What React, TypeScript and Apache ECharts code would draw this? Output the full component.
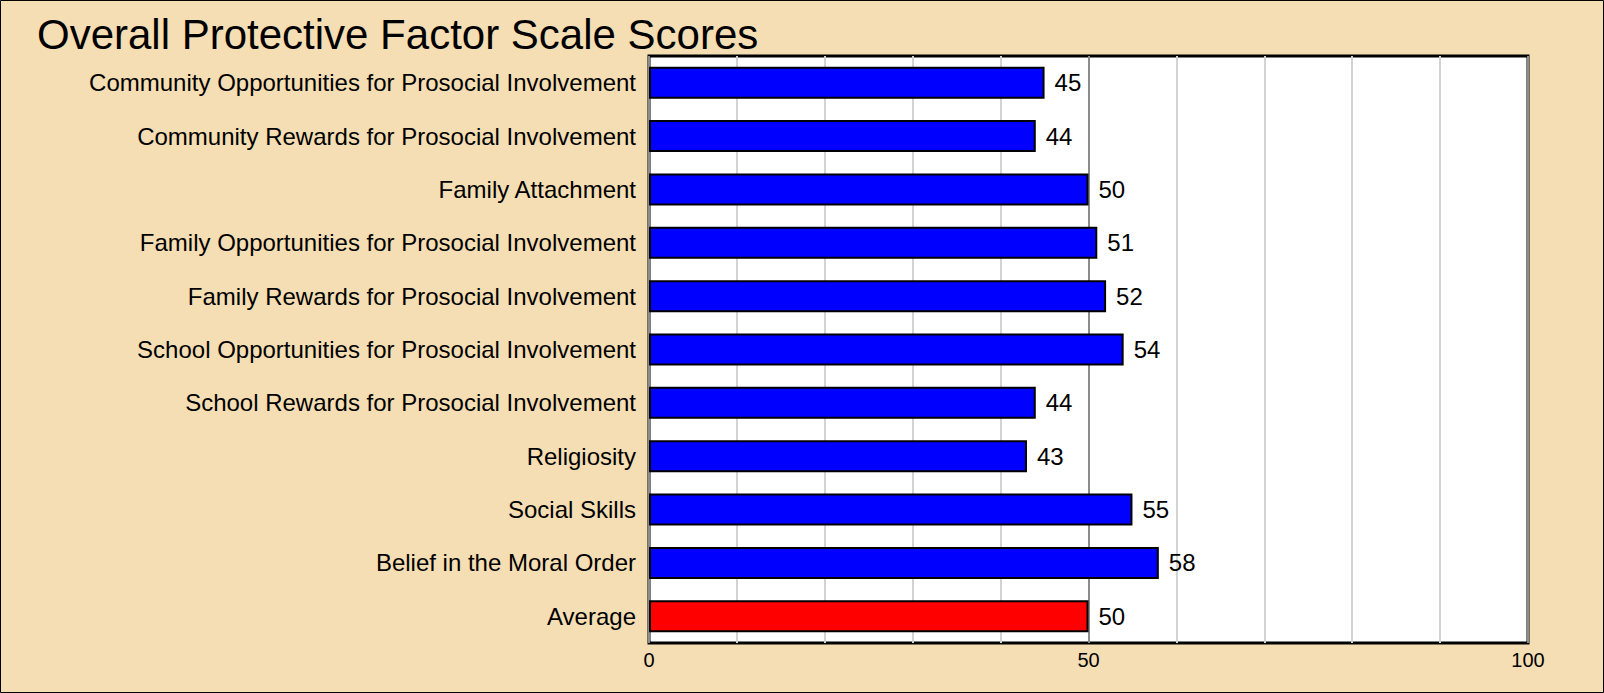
import React, { useEffect, useRef } from "react";
import * as echarts from "echarts";

const categories = [
  "Community Opportunities for Prosocial Involvement",
  "Community Rewards for Prosocial Involvement",
  "Family Attachment",
  "Family Opportunities for Prosocial Involvement",
  "Family Rewards for Prosocial Involvement",
  "School Opportunities for Prosocial Involvement",
  "School Rewards for Prosocial Involvement",
  "Religiosity",
  "Social Skills",
  "Belief in the Moral Order",
  "Average",
];
const values = [45, 44, 50, 51, 52, 54, 44, 43, 55, 58, 50];
const barColors = [
  "#0000FF", "#0000FF", "#0000FF", "#0000FF", "#0000FF", "#0000FF",
  "#0000FF", "#0000FF", "#0000FF", "#0000FF", "#FF0000",
];
const axisMin = 0;
const axisMax = 100;
const axisInterval = 50;
const titleText = "Overall Protective Factor Scale Scores";

const FONT = "'Liberation Sans', Arial, Helvetica, sans-serif";

export default function App() {
  const ref = useRef<HTMLDivElement>(null);
  useEffect(() => {
    document.body.style.margin = "0";
    if (!ref.current) return;
    const chart = echarts.init(ref.current, null, { renderer: "svg" });
    chart.setOption({
      animation: false,
      backgroundColor: "#F5DEB3",
      textStyle: { fontFamily: FONT },
      title: {
        text: titleText,
        left: 32,
        top: 8,
        textStyle: { fontSize: 42, fontWeight: "normal", color: "#000", fontFamily: FONT },
      },
      graphic: [
        {
          type: "rect",
          shape: { x: 0.5, y: 0.5, width: 1603, height: 692 },
          style: { fill: "none", stroke: "#000", lineWidth: 1 },
          z: 100,
        },
      ],
      grid: {
        left: 649,
        top: 56,
        right: 76,
        bottom: 50,
        show: true,
        backgroundColor: "#FFFFFF",
        borderColor: "#000",
        borderWidth: 3,
        z: 0,
      },
      xAxis: {
        type: "value",
        min: axisMin,
        max: axisMax,
        interval: axisInterval,
        axisLine: { show: false },
        axisTick: { show: false },
        axisLabel: { fontSize: 20, color: "#000", margin: 7, fontFamily: FONT },
        splitLine: { show: true, lineStyle: { color: "#8c8c8c", width: 2 } },
        minorTick: { show: false, splitNumber: 5 },
        minorSplitLine: { show: true, lineStyle: { color: "#d3d3d3", width: 2 } },
      },
      yAxis: {
        type: "category",
        data: categories,
        inverse: true,
        axisLine: { show: false },
        axisTick: { show: false },
        axisLabel: {
          fontSize: 24,
          color: "#000",
          margin: 13,
          fontFamily: FONT,
          padding: [5, 0, 0, 0],
        },
        splitLine: { show: false },
      },
      series: [
        {
          type: "bar",
          data: values.map((v, i) => ({ value: v, itemStyle: { color: barColors[i] } })),
          barWidth: 32,
          itemStyle: { borderColor: "#000", borderWidth: 2 },
          label: {
            show: true,
            position: "right",
            distance: 10,
            fontSize: 24,
            color: "#000",
            fontFamily: FONT,
            padding: [5, 0, 0, 0],
          },
          z: 3,
        },
      ],
    });
    return () => chart.dispose();
  }, []);
  return (
    <div
      ref={ref}
      style={{ position: "absolute", left: 0, top: 0, width: 1604, height: 693 }}
    />
  );
}
